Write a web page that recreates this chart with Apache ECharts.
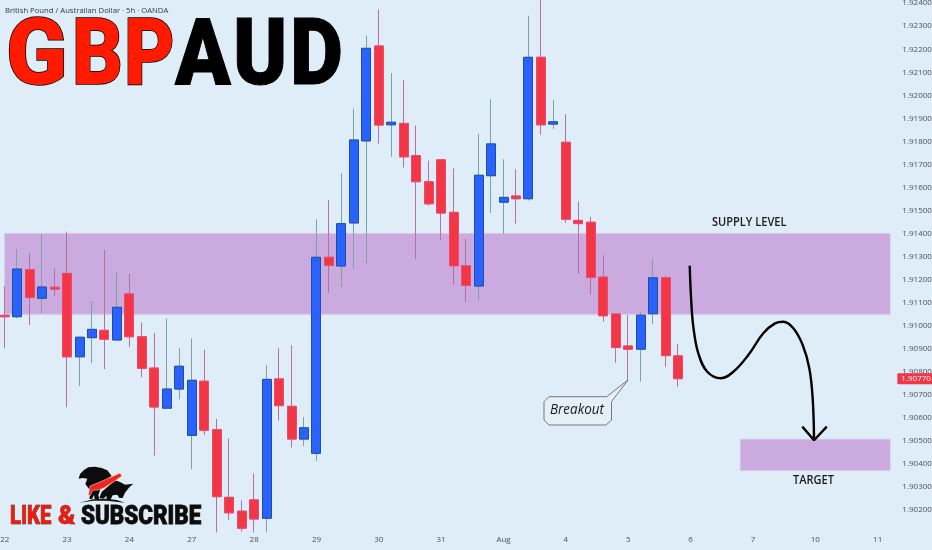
<!DOCTYPE html>
<html><head><meta charset="utf-8">
<style>html,body{margin:0;padding:0;background:#dfedf8}#c{width:932px;height:550px}</style>
<script src="https://cdn.jsdelivr.net/npm/echarts@6/dist/echarts.min.js"></script>
</head><body><div id="c"></div>
<script>
const categories=['22','','','','','23','','','','','24','','','','','27','','','','','28','','','','','29','','','','','30','','','','','31','','','','','Aug','','','','','4','','','','','5','','','','','6','','','','','7','','','','','10','','','','','11',''];
const opens=[1.91045,1.91039,1.91243,1.91119,1.91167,1.91227,1.90865,1.90948,1.90980,1.90938,1.91138,1.90952,1.90816,1.90642,1.90725,1.90524,1.90759,1.90549,1.90255,1.90195,1.90244,1.90164,1.90769,1.90650,1.90508,1.90446,1.91297,1.91259,1.91446,1.91802,1.92214,1.91872,1.91878,1.91738,1.91625,1.91720,1.91492,1.91260,1.91172,1.91651,1.91536,1.91563,1.91551,1.92165,1.91875,1.91796,1.91457,1.91449,1.91211,1.91051,1.90912,1.90898,1.91052,1.91208,1.90869];
const closes=[1.91039,1.91246,1.91122,1.91168,1.91159,1.90865,1.90950,1.90984,1.90941,1.91080,1.90952,1.90815,1.90647,1.90725,1.90824,1.90763,1.90546,1.90258,1.90188,1.90121,1.90161,1.90767,1.90653,1.90508,1.90557,1.91297,1.91262,1.91443,1.91806,1.92204,1.91871,1.91883,1.91733,1.91625,1.91529,1.91489,1.91260,1.91175,1.91653,1.91789,1.91557,1.91551,1.92165,1.91872,1.91885,1.91462,1.91443,1.91209,1.91043,1.90905,1.90898,1.91046,1.91208,1.90870,1.90770];
const lows=[1.90902,1.91032,1.91003,1.91054,1.91129,1.90646,1.90738,1.90837,1.90812,1.90938,1.90908,1.90777,1.90436,1.90642,1.90681,1.90377,1.90526,1.90103,1.90157,1.90106,1.90103,1.90103,1.90588,1.90471,1.90478,1.90414,1.91143,1.91167,1.91247,1.91271,1.91790,1.91733,1.91687,1.91289,1.91521,1.91372,1.91178,1.91104,1.91107,1.91490,1.91399,1.91443,1.91543,1.91829,1.91854,1.91446,1.91224,1.91136,1.91017,1.90839,1.90764,1.90757,1.91007,1.90821,1.90735];
const highs=[1.91172,1.91333,1.91314,1.91398,1.91247,1.91408,1.90950,1.91107,1.91329,1.91232,1.91224,1.91013,1.90968,1.91032,1.90903,1.90945,1.90896,1.90595,1.90511,1.90242,1.90359,1.90829,1.90902,1.90916,1.90604,1.91462,1.91546,1.91661,1.91942,1.92259,1.92373,1.92097,1.92066,1.91868,1.91716,1.91720,1.91683,1.91376,1.91833,1.91984,1.91722,1.91680,1.92345,1.92435,1.91980,1.91917,1.91539,1.91473,1.91307,1.91051,1.91046,1.91059,1.91291,1.91217,1.90921];
const lastPrice=1.90770;
const supplyZone=[[0,1.91400],[71,1.91050]];
const targetZone=[[59,1.90507],[71,1.90372]];
const projectionPath=[[54.93,1.91260],[55.04,1.91119],[55.22,1.90996],[55.62,1.90880],[56.34,1.90800],[57.42,1.90772],[58.43,1.90800],[59.63,1.90873],[60.83,1.90967],[61.77,1.91010],[62.44,1.91017],[63.24,1.90989],[63.99,1.90916],[64.52,1.90815],[64.79,1.90685],[64.90,1.90507]];
const arrowHead=[[63.96,1.90562],[64.90,1.90503],[65.92,1.90562]];

const wickData=opens.map((o,i)=>[o,closes[i],lows[i],highs[i]]);
const bodyData=opens.map((o,i)=>[o,closes[i],Math.min(o,closes[i]),Math.max(o,closes[i])]);
const axisFont='"Open Sans","Noto Sans",sans-serif';
const zone=z=>[[{xAxis:z[0][0],yAxis:z[0][1]},{xAxis:z[1][0],yAxis:z[1][1]}]];
const txt=(text,x,y,font,fill,extra={},scaleX=1)=>({type:'text',x,y,scaleX,z:100,style:Object.assign({text,x:0,y:0,font,fill,textVerticalAlign:'middle'},extra)});
const pts=a=>a.map(p=>[70+p[0]/3,462+p[1]/3]);
const poly=(a,fill,extra={})=>({type:'polygon',z:100,shape:{points:pts(a)},style:Object.assign({fill},extra)});
const titleFont='900 93px Roboto';
const likeFont='900 26px Roboto';
const chart=echarts.init(document.getElementById('c'),null,{renderer:'canvas'});
chart.setOption({
 animation:false,backgroundColor:'#dfedf8',
 grid:{left:-1.5,top:-19.9,width:897.84,height:576,containLabel:false,outerBoundsMode:'none'},
 xAxis:[{type:'category',data:categories,boundaryGap:true,axisLine:{show:false},axisTick:{show:false},splitLine:{show:false},
   axisLabel:{interval:0,inside:true,margin:12,fontSize:8,fontFamily:axisFont,color:'#4a5058',hideOverlap:false}},
  {type:'value',min:-0.5,max:71.5,show:false}],
 yAxis:{type:'value',position:'right',min:1.90,max:1.925,interval:0.001,scale:true,axisLine:{show:false},axisTick:{show:false},splitLine:{show:false},
   axisLabel:{margin:6,fontSize:8,fontFamily:axisFont,color:'#4a5058',
     formatter:v=>(v<1.9015||v>1.9245)?'':v.toFixed(5)}},
 series:[
  {type:'line',data:[],z:1,silent:true,
   markArea:{silent:true,itemStyle:{color:'#cbaadf',borderColor:'#d8c0ea',borderWidth:1},data:[zone(supplyZone)[0],zone(targetZone)[0]]}},
  {type:'candlestick',data:wickData,barWidth:9,z:2,silent:true,
   itemStyle:{color:'rgba(0,0,0,0)',color0:'rgba(0,0,0,0)',borderColor:'#7ba3a3',borderColor0:'#b5709f',borderWidth:1}},
  {type:'candlestick',data:bodyData,barWidth:9.5,z:3,silent:true,
   itemStyle:{color:'#2962ff',color0:'#f23645',borderColor:'#1f4f9e',borderColor0:'#f0486a',borderWidth:1}},
  {type:'line',xAxisIndex:1,data:projectionPath,smooth:0.4,showSymbol:false,symbol:'none',clip:false,z:5,silent:true,lineStyle:{color:'#000',width:2.4}},
  {type:'line',xAxisIndex:1,data:arrowHead,showSymbol:false,symbol:'none',clip:false,z:5,silent:true,lineStyle:{color:'#000',width:2.4}},
  {type:'line',data:[],z:50,silent:true,
   markLine:{silent:true,symbol:'none',animation:false,precision:5,z:50,lineStyle:{color:'rgba(0,0,0,0)',width:1},
     data:[{yAxis:lastPrice,label:{show:true,position:'end',distance:1,formatter:p=>Number(p.value).toFixed(5),color:'#fff',fontSize:8,fontFamily:axisFont,backgroundColor:'#f23645',padding:[2,3,1,4],borderRadius:1}}]}}
 ],
 graphic:[
  txt('British Pound / Australian Dollar · 5h · OANDA',5,10.5,'500 7.7px "Open Sans"','#33383f'),
  txt('G',6,61,titleFont,'#ff1a00',{stroke:'#000',lineWidth:1.5},0.97),
  txt('B',72,61,titleFont,'#ff1a00',{stroke:'#000',lineWidth:1.5},0.85),
  txt('P',124,61,titleFont,'#ff1a00',{stroke:'#000',lineWidth:1.5},0.84),
  txt('A',175,61,titleFont,'#000',{stroke:'#000',lineWidth:1},0.88),
  txt('U',233,61,titleFont,'#000',{stroke:'#000',lineWidth:1},0.88),
  txt('D',290,61,titleFont,'#000',{stroke:'#000',lineWidth:1},0.88),
  txt('SUPPLY LEVEL',712,223,'600 12px "Open Sans"','#1b1b1b',{},0.92),
  txt('TARGET',793,481,'600 12px "Open Sans"','#1b1b1b',{},0.92),
  {type:'polygon',z:99,shape:{points:[[549,396.7],[606.7,396.7],[628,380],[611.5,401.7],[611.5,420],[606,425],[549,425],[544,420],[544,401.7]]},style:{fill:'#e4eff8',stroke:'#555b62',lineWidth:0.8,lineJoin:'round'}},
  txt('Breakout',550,410.5,'italic 14px "Open Sans"','#1a1a1a',{},0.96),
  poly([[26,50],[30,36],[42,24],[55,16],[75,14],[95,18],[112,25],[125,42],[100,60],[90,85],[85,100],[88,112],[74,112],[72,98],[66,112],[58,110],[62,88],[46,66],[52,50],[38,48]],'#0c0c0c'),
  poly([[95,90],[135,55],[150,60],[165,68],[190,65],[178,76],[165,92],[158,108],[148,108],[142,98],[128,100],[122,112],[110,112],[110,102],[100,110],[88,108]],'#0c0c0c'),
  poly([[55,98],[60,72],[90,60],[112,50],[150,33],[156,42],[130,60],[102,78],[85,84],[68,85],[60,102]],'#f4231b',{stroke:'#fff',lineWidth:0.5}),
  poly([[28,122],[70,112],[110,110],[140,114],[165,122],[110,116],[70,116]],'#111'),
  txt('LIKE',10,517,likeFont,'#ee1c0e',{stroke:'#111',lineWidth:0.6},0.78),
  txt('&',58,517,likeFont,'#ee1c0e',{stroke:'#111',lineWidth:0.4},1),
  txt('SUBSCRIBE',81,517,likeFont,'#0c0c0c',{stroke:'#0c0c0c',lineWidth:0.8},0.86)
 ]
});
</script></body></html>
